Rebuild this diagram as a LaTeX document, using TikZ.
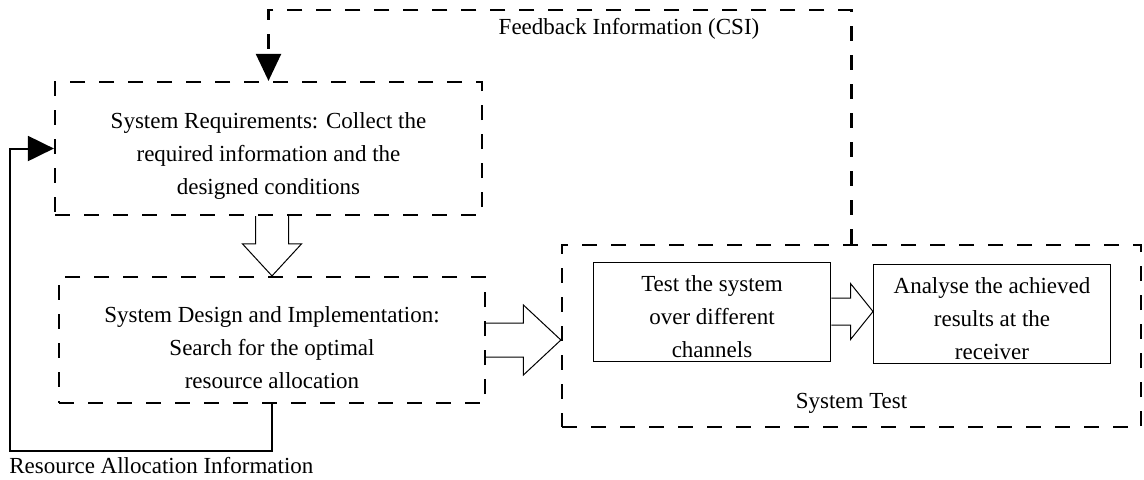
\documentclass[tikz,border=0pt]{standalone}
\usepackage{fontspec}
\setmainfont{Liberation Serif}
\usepackage{tikz}
\usetikzlibrary{arrows.meta,calc,positioning}
\definecolor{stInk}{HTML}{000000}
\tikzset{
  st diagram/.style={font=\fontsize{11.5}{16.5}\selectfont, text=stInk,
    line join=miter},
  st stage/.style={draw=stInk, line width=1.1pt, dash pattern=on 7.5pt off 7pt,
    align=center, inner sep=0pt},
  st task/.style={draw=stInk, line width=0.5pt, align=center, inner sep=0pt,
    minimum height=49.5pt},
  st hollow/.style={draw=stInk, line width=0.5pt},
  st feedback/.style={draw=stInk, line width=1.1pt, dash pattern=on 7.5pt off 7pt,
    -{Triangle[length=13.5pt,width=12.5pt]}},
  st loop/.style={draw=stInk, line width=1pt, -{Triangle[length=13pt,width=12.5pt]}},
  st label/.style={inner sep=0pt}
}

\begin{document}
\begin{tikzpicture}[st diagram,x=0.5pt,y=-0.5pt]
\useasboundingbox (0,0) rectangle (1144,479);
% stages
\node[st stage,minimum width=213.5pt,minimum height=66.5pt] (req) at (268.5,148.5)
  {\rule{0pt}{15.8pt}System Requirements: Collect the\\required information and the\\designed conditions};
\node[st stage,minimum width=213pt,minimum height=63pt] (design) at (272,340)
  {\rule{0pt}{15.8pt}System Design and Implementation:\\Search for the optimal\\resource allocation};
\node[st stage,minimum width=289.5pt,minimum height=91pt] (test) at (851.5,336) {};
\node[st task,minimum width=118.75pt] (channel) at (712,311.5)
  {\rule{0pt}{13.3pt}Test the system\\over different\\channels};
\node[st task,minimum width=118.5pt] (analyse) at (992,313.5)
  {\rule{0pt}{13.3pt}Analyse the achieved\\results at the\\receiver};
\node[st label,above=7pt of test.south] (testlabel) {System Test};
% hollow arrows
\draw[st hollow] ($(req.south -| design.north)+(-8.25pt,0)$) -- ($(design.north)+(-8.25pt,16pt)$)
  -- ++(-6.5pt,0) -- (design.north) -- ($(design.north)+(14.75pt,16pt)$) -- ++(-6.5pt,0)
  -- ($(req.south -| design.north)+(8.25pt,0)$);
\draw[st hollow] ($(design.east)+(0,8.5pt)$) -- ($(test.west |- design.east)+(-18.75pt,8.5pt)$)
  -- ++(0,9pt) -- (test.west |- design.east) -- ($(test.west |- design.east)+(-18.75pt,-17.5pt)$)
  -- ++(0,9pt) -- ($(design.east)+(0,-8.5pt)$);
\draw[st hollow] ($(channel.east)+(0,6.75pt)$) -- ($(analyse.west |- channel.east)+(-11.25pt,6.75pt)$)
  -- ++(0,7.25pt) -- (analyse.west |- channel.east) -- ($(analyse.west |- channel.east)+(-11.25pt,-14pt)$)
  -- ++(0,7.25pt) -- ($(channel.east)+(0,-6.75pt)$);
% feedback and loop
\coordinate (fbtop) at (0,10);
\draw[st feedback] (test.north) -- (test.north |- fbtop) -| (req.north);
\node[st label] (fblabel) at (629,29) {Feedback Information (CSI)};
\coordinate (loopcorner) at (9.6,451);
\draw[st loop] (design.south) |- (loopcorner) |- (req.west);
\node[st label,anchor=west] (ralabel) at (9,465) {Resource Allocation Information};
\end{tikzpicture}
\end{document}
